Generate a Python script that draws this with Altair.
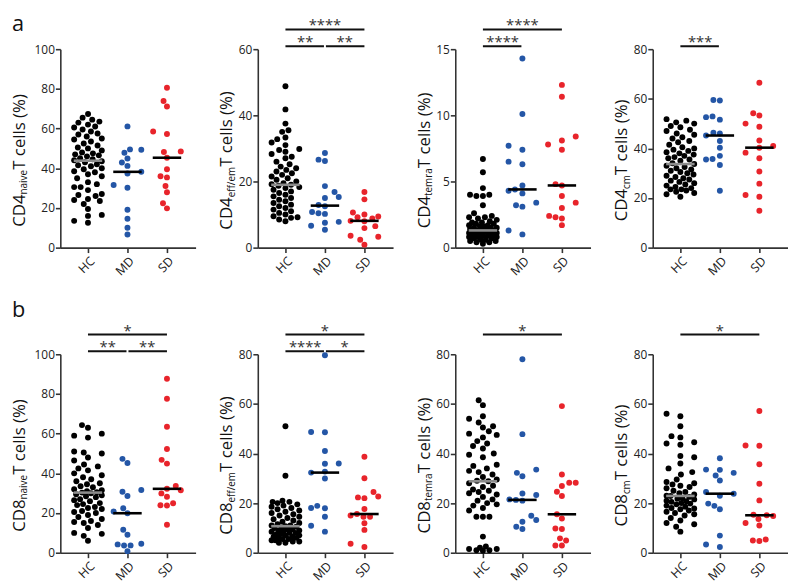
import math
import altair as alt
import pandas as pd

GROUPS = ["HC", "MD", "SD"]
GROUP_COLORS = ["#000000", "#2456A6", "#E8242B"]
MEDIAN_COLORS = ["#8c8c8c", "#000000", "#000000"]

# ---------------- data ----------------
# a1: CD4 naive
HC_A1 = [67.3, 65.5, 64.5, 63.5, 63, 62, 61, 60.5, 59.5, 58.5, 57.5, 57, 56, 55, 54.5, 53.5, 52.5, 51.5, 50.5, 50,
         49, 48, 47.5, 47, 46.5, 46, 45, 44.5, 44, 43.5, 43, 42, 41.5, 41, 40, 39.5, 38.5, 38, 37, 36,
         35, 33, 32, 30.5, 30.5, 29, 27, 26.5, 26, 24.5, 24, 23.5, 22, 19.5, 16.5, 16, 13.5, 12.5]
MD_A1 = [61.1, 49.5, 49.3, 47.8, 44.9, 42.9, 41.2, 38.2, 37.4, 31.6, 30.2, 19.1, 14.6, 10.0, 6.6]
SD_A1 = [80.6, 73.9, 71.1, 58.5, 57.3, 48.5, 48.2, 45.3, 39.5, 36.0, 35.4, 31.1, 27.9, 22.4, 19.8]
MED_A1 = [43.8, 38.2, 45.3]

# a2: CD4 eff/em
HC_A2 = [48.8, 41.8, 37.5, 35.5, 35.0, 33.3, 32.8, 31.8, 31.0, 29.8, 29.5, 29.0, 28.3, 27.5, 27.0, 26.0, 25.2, 24.5,
         24.0, 23.5, 23.0, 22.5, 22.0, 21.5, 21.0, 20.5, 20.0, 19.5, 19.2, 19.0, 18.7, 18.3, 18.0, 17.5, 17.0, 16.5,
         16.0, 15.5, 15.0, 14.5, 14.0, 13.5, 13.0, 12.5, 12.0, 11.5, 11.0, 10.5, 10.0, 9.5, 9.2, 9.0, 8.5, 8.0]
MD_A2 = [28.6, 26.6, 26.2, 18.6, 16.8, 15.3, 15.0, 12.9, 12.5, 10.8, 10.4, 10.2, 7.8, 7.5, 6.6, 5.4]
SD_A2 = [16.8, 14.6, 10.6, 10.0, 9.4, 9.2, 8.8, 8.1, 8.0, 6.5, 5.9, 3.6, 3.3, 2.4, 0.9]
MED_A2 = [19.0, 12.7, 8.1]

# a3: CD4 temra
HC_A3 = [6.7, 5.7, 4.5, 4.0, 4.0, 3.9, 3.9, 3.2, 2.6, 2.4, 2.3, 2.3, 2.2, 2.1, 2.0, 1.9, 1.9, 1.8, 1.8, 1.7,
         1.7, 1.6, 1.6, 1.5, 1.5, 1.5, 1.4, 1.4, 1.3, 1.3, 1.3, 1.2, 1.2, 1.2, 1.1, 1.1, 1.0, 1.0, 1.0, 0.9,
         0.9, 0.9, 0.8, 0.8, 0.8, 0.7, 0.7, 0.6, 0.6, 0.5, 0.5, 0.4, 0.4, 0.3]
MD_A3 = [14.3, 10.1, 7.7, 7.4, 6.5, 6.3, 4.7, 4.4, 4.3, 4.1, 3.4, 3.2, 3.1, 1.3, 1.0]
SD_A3 = [12.3, 11.4, 8.4, 8.1, 7.8, 7.4, 4.8, 4.7, 3.9, 3.4, 3.0, 2.4, 2.3, 2.2, 1.7]
MED_A3 = [1.3, 4.4, 4.7]

# a4: CD4 cm
HC_A4 = [51.8, 51.2, 50.5, 50.0, 49.0, 48.5, 47.5, 47.0, 46.0, 45.5, 44.5, 44.0, 43.0, 42.5, 41.5, 40.5, 40.0, 39.5,
         39.0, 38.5, 38.0, 37.5, 37.0, 36.5, 36.0, 35.5, 35.0, 34.0, 33.7, 33.0, 32.5, 32.0, 31.5, 31.0, 30.5, 30.0,
         29.5, 29.0, 28.5, 28.0, 27.5, 27.0, 26.5, 26.0, 25.5, 25.0, 24.5, 24.0, 23.5, 23.5, 23.0, 22.5, 22.0, 21.5, 20.5]
MD_A4 = [59.5, 59.3, 52.9, 52.6, 51.6, 46.3, 46.0, 45.2, 43.0, 40.3, 37.0, 35.7, 35.5, 33.3, 22.9]
SD_A4 = [66.5, 54.2, 53.3, 50.0, 48.7, 43.2, 41.0, 40.3, 38.3, 36.0, 30.7, 25.8, 21.2, 20.5, 14.9]
MED_A4 = [33.7, 45.2, 40.3]

# b1: CD8 naive
HC_B1 = [64.3, 63.0, 60.0, 59.0, 58.0, 51.0, 50.5, 50.0, 48.0, 46.5, 44.5, 43.5, 42.5, 41.5, 40.0, 39.0, 38.0, 37.0,
         36.0, 35.0, 34.5, 33.5, 33.0, 32.0, 31.5, 31.0, 30.5, 30.3, 30.0, 29.5, 29.0, 28.5, 28.0, 27.0, 26.5, 26.0,
         25.0, 24.5, 24.0, 23.0, 22.5, 22.0, 21.0, 20.5, 20.0, 19.0, 18.0, 17.0, 16.0, 15.5, 15.0, 14.0, 12.5, 10.0,
         9.5, 8.5, 6.0]
MD_B1 = [47.3, 45.2, 31.6, 30.7, 28.6, 22.4, 20.8, 19.9, 11.6, 9.1, 4.5, 4.2, 3.7, 3.6, 0.8]
SD_B1 = [87.7, 77.6, 63.5, 52.3, 46.8, 44.9, 33.6, 32.2, 31.5, 29.9, 28.2, 24.9, 23.9, 23.8, 14.1]
MED_B1 = [30.3, 19.9, 32.2]

# b2: CD8 eff/em
HC_B2 = [51.0, 31.0, 21.0, 20.5, 20.5, 20.0, 19.5, 19.0, 18.5, 18.0, 17.5, 17.0, 16.5, 16.0, 15.5, 15.0, 14.5, 14.0,
         13.5, 13.0, 12.5, 12.0, 11.5, 11.0, 11.0, 10.7, 10.5, 10.0, 10.0, 9.5, 9.5, 9.0, 9.0, 8.5, 8.5, 8.0, 8.0,
         7.5, 7.5, 7.0, 7.0, 6.5, 6.5, 6.0, 6.0, 5.5, 5.5, 5.0, 5.0, 4.5, 4.5, 4.0, 4.0]
MD_B2 = [79.6, 48.7, 48.6, 41.0, 36.0, 35.9, 32.7, 32.3, 29.9, 18.9, 18.0, 17.9, 14.5, 10.9, 8.5]
SD_B2 = [38.7, 30.0, 24.5, 22.7, 22.3, 22.0, 17.6, 15.6, 15.0, 14.5, 14.5, 11.9, 9.2, 3.6, 2.3]
MED_B2 = [10.7, 32.3, 15.6]

# b3: CD8 temra
HC_B3 = [61.5, 59.5, 55, 54, 52.5, 51, 50.5, 49, 48, 47.5, 46.5, 45, 44, 43, 42, 40, 39.5, 38.5, 35.5, 35,
         34, 33, 32.5, 31.5, 30.5, 29.5, 29, 28.8, 28, 27, 26.5, 25.5, 25, 24.5, 24, 23.5, 22.5, 21.5, 21, 20,
         19.5, 19, 18, 17, 14.5, 14.5, 14.5, 6.5, 2.5, 2.0, 1.5, 1.5, 1.0, 1.0, 0.8]
MD_B3 = [78.0, 47.8, 33.5, 32.2, 30.8, 23.9, 23.3, 21.5, 21.3, 21.0, 14.9, 13.2, 12.5, 10.5, 9.6]
SD_B3 = [59.1, 31.5, 28.2, 28.2, 26.9, 24.6, 22.9, 15.5, 13.8, 9.8, 9.6, 5.8, 4.9, 2.9, 2.9]
MED_B3 = [28.8, 21.3, 15.5]

# b4: CD8 cm
HC_B4 = [56, 55, 51, 47, 46.5, 44.5, 44, 43.5, 39, 38.5, 36, 34, 32.5, 31.5, 29.5, 28.5, 28, 27.5, 27, 26.5,
         26, 25, 24.5, 24, 23.5, 23, 22.9, 22.5, 22, 21.8, 21.5, 21, 20.8, 20.5, 20, 19.8, 19.5, 19, 18.5, 18,
         17.8, 17.5, 17, 16.5, 16, 15.5, 15, 14, 13, 12, 11.5, 10.5, 8.5]
MD_B4 = [38.1, 33.5, 33.4, 32.2, 31.1, 29.1, 24.5, 23.8, 23.0, 19.8, 18.9, 17.5, 6.9, 3.3, 2.3]
SD_B4 = [57.1, 43.2, 43.1, 35.7, 27.8, 21.1, 15.3, 15.1, 14.8, 13.6, 12.0, 11.0, 5.3, 4.9, 4.7]
MED_B4 = [22.9, 23.8, 15.1]

# significance annotations: (from, to, level 0=upper 1=lower, label)
SIG_A1 = []
SIG_A2 = [("HC", "SD", 0, "****"), ("HC", "MD", 1, "**"), ("MD", "SD", 1, "**")]
SIG_A3 = [("HC", "SD", 0, "****"), ("HC", "MD", 1, "****")]
SIG_A4 = [("HC", "MD", 1, "***")]
SIG_B1 = [("HC", "SD", 0, "*"), ("HC", "MD", 1, "**"), ("MD", "SD", 1, "**")]
SIG_B2 = [("HC", "SD", 0, "*"), ("HC", "MD", 1, "****"), ("MD", "SD", 1, "*")]
SIG_B3 = [("HC", "SD", 0, "*")]
SIG_B4 = [("HC", "SD", 0, "*")]

TICKS_100 = [0, 20, 40, 60, 80, 100]
TICKS_80 = [0, 20, 40, 60, 80]
TICKS_60 = [0, 20, 40, 60]
TICKS_15 = [0, 5, 10, 15]

ROW_A = [
    ("CD4", "naive", 100, TICKS_100, HC_A1, MD_A1, SD_A1, MED_A1, SIG_A1),
    ("CD4", "eff/em", 60, TICKS_60, HC_A2, MD_A2, SD_A2, MED_A2, SIG_A2),
    ("CD4", "temra", 15, TICKS_15, HC_A3, MD_A3, SD_A3, MED_A3, SIG_A3),
    ("CD4", "cm", 80, TICKS_80, HC_A4, MD_A4, SD_A4, MED_A4, SIG_A4),
]
ROW_B = [
    ("CD8", "naive", 100, TICKS_100, HC_B1, MD_B1, SD_B1, MED_B1, SIG_B1),
    ("CD8", "eff/em", 80, TICKS_80, HC_B2, MD_B2, SD_B2, MED_B2, SIG_B2),
    ("CD8", "temra", 80, TICKS_80, HC_B3, MD_B3, SD_B3, MED_B3, SIG_B3),
    ("CD8", "cm", 80, TICKS_80, HC_B4, MD_B4, SD_B4, MED_B4, SIG_B4),
]
TITLE_REST = " T cells (%)"

# ---------------- layout / style ----------------
W, H = 137, 201
ROW_GAP = 108
XMAX = 3.425
CENTERS = [0.7, 1.7, 2.7]
PX_X = W / XMAX
DOT_SIZE = 36
DIAM = 6.6
SPREAD = 14
FONT = "Open Sans"
AX = "#333333"
TITLE_SIZE = 17
SUB_SIZE = 10

OS_W = {"C": 0.631, "D": 0.722, "4": 0.572, "8": 0.572, "T": 0.542, " ": 0.26, "c": 0.478, "e": 0.561,
        "l": 0.253, "s": 0.477, "(": 0.297, "%": 0.822, ")": 0.297, "n": 0.614, "a": 0.575, "i": 0.253,
        "v": 0.498, "f": 0.339, "/": 0.367, "m": 0.93, "t": 0.352, "r": 0.408}


def text_width(s, size):
    return sum(OS_W.get(ch, 0.55) for ch in s) * size


def swarm(values, ypx):
    order = sorted(range(len(values)), key=lambda i: values[i])
    placed = []
    xs = [0.0] * len(values)
    d2 = DIAM * DIAM
    for i in order:
        y = values[i] * ypx
        cands = [0.0]
        for px, py in placed:
            dy = abs(py - y)
            if dy < DIAM:
                dx = math.sqrt(d2 - dy * dy)
                cands += [px + dx, px - dx]
        cands = sorted(set(round(c, 3) for c in cands), key=lambda c: (abs(c), c))
        chosen = None
        for c in cands:
            if abs(c) > SPREAD:
                continue
            if all((c - px) ** 2 + (y - py) ** 2 >= d2 - 1e-6 for px, py in placed):
                chosen = c
                break
        if chosen is None:
            best, bestd = 0.0, -1
            for k in range(29):
                c = -SPREAD + k * (2 * SPREAD / 28)
                md = min((c - px) ** 2 + (y - py) ** 2 for px, py in placed)
                if md > bestd:
                    bestd, best = md, c
            chosen = best
        placed.append((chosen, y))
        xs[i] = chosen
    return xs


LABEL_EXPR = "[" + ",".join("'%s'" % g for g in GROUPS) + "][round(datum.value - %s)]" % CENTERS[0]


def make_panel(spec, panel_letter=None, letter_y=-18):
    base, sub, ymax, ticks, hc, md, sd, med, sig = spec
    ypx = H / ymax
    rows = []
    for g, vals in zip(GROUPS, [hc, md, sd]):
        c = CENTERS[GROUPS.index(g)]
        offs = swarm(vals, ypx)
        for v, o in zip(vals, offs):
            rows.append({"group": g, "value": v, "xpos": c + o / PX_X})
    pts = pd.DataFrame(rows)

    xscale = alt.Scale(domain=[0, XMAX], nice=False, zero=False)
    yscale = alt.Scale(domain=[0, ymax], nice=False, zero=True)
    xaxis = alt.Axis(values=CENTERS, labelExpr=LABEL_EXPR, labelAngle=-45, labelAlign="right",
                     labelBaseline="top", title=None, grid=False, domainColor=AX, domainWidth=1.6,
                     tickColor=AX, tickWidth=1.6, tickSize=5, labelFont=FONT, labelFontSize=12.5,
                     labelColor="#222222", labelPadding=2)
    yaxis = alt.Axis(values=ticks, title=None, grid=False, domainColor=AX, domainWidth=1.6,
                     tickColor=AX, tickWidth=1.6, tickSize=5, labelFont=FONT, labelFontSize=12,
                     labelColor="#222222", labelPadding=1)

    layers = []
    layers.append(alt.Chart(pts).mark_circle(size=DOT_SIZE, opacity=1).encode(
        x=alt.X("xpos:Q", scale=xscale, axis=xaxis),
        y=alt.Y("value:Q", scale=yscale, axis=yaxis),
        color=alt.Color("group:N", scale=alt.Scale(domain=GROUPS, range=GROUP_COLORS), legend=None),
    ))

    mdf = pd.DataFrame({
        "group": GROUPS,
        "med": med,
        "x1": [c - 0.36 for c in CENTERS],
        "x2": [c + 0.36 for c in CENTERS],
        "mcol": MEDIAN_COLORS,
    })
    layers.append(alt.Chart(mdf).mark_rule(strokeWidth=2.6).encode(
        x=alt.X("x1:Q", scale=xscale, axis=xaxis),
        x2="x2:Q",
        y=alt.Y("med:Q", scale=yscale, axis=yaxis),
        color=alt.Color("mcol:N", scale=None),
    ))

    level_y = {0: -20, 1: -3}
    for lvl in (0, 1):
        items = [s for s in sig if s[2] == lvl]
        if not items:
            continue
        srows = []
        for a, b, _, lab in items:
            ca, cb = CENTERS[GROUPS.index(a)], CENTERS[GROUPS.index(b)]
            x1, x2 = ca, cb
            if lvl == 1:
                if b == "MD":
                    x2 = cb - 0.025
                if a == "MD":
                    x1 = ca + 0.025
            srows.append({"x1": x1, "x2": x2, "xm": (ca + cb) / 2, "lab": lab})
        sdf = pd.DataFrame(srows)
        layers.append(alt.Chart(sdf).mark_rule(strokeWidth=2, color="#111111").encode(
            x=alt.X("x1:Q", scale=xscale, axis=xaxis), x2="x2:Q", y=alt.value(level_y[lvl])))
        layers.append(alt.Chart(sdf).mark_text(font=FONT, fontSize=15, color="#333333",
                                               baseline="alphabetic", align="center").encode(
            x=alt.X("xm:Q", scale=xscale, axis=xaxis), y=alt.value(level_y[lvl] + 1), text="lab:N"))

    # y title with subscript, built from three rotated text pieces
    wide = max(len(str(t)) for t in ticks) >= 3
    ax_x = -36 if wide else -26
    w1 = text_width(base, TITLE_SIZE)
    w2 = text_width(sub, SUB_SIZE)
    w3 = text_width(TITLE_REST, TITLE_SIZE)
    bottom = H / 2 + 10 + (w1 + w2 + w3) / 2
    parts = [(base, TITLE_SIZE, ax_x, bottom),
             (sub, SUB_SIZE, ax_x + 2.5, bottom - w1),
             (TITLE_REST, TITLE_SIZE, ax_x, bottom - w1 - w2)]
    for txt, size, xv, yv in parts:
        layers.append(alt.Chart(pd.DataFrame({"t": [txt]})).mark_text(
            font=FONT, fontSize=size, angle=270, align="left", baseline="alphabetic", color="#111111"
        ).encode(x=alt.value(xv), y=alt.value(yv), text="t:N"))

    if panel_letter:
        layers.append(alt.Chart(pd.DataFrame({"t": [panel_letter]})).mark_text(
            font=FONT, fontSize=22, align="left", baseline="alphabetic", color="#111111"
        ).encode(x=alt.value(-49), y=alt.value(letter_y), text="t:N"))

    return alt.layer(*layers).properties(width=W, height=H)


row_a = alt.hconcat(*[make_panel(s, "a" if i == 0 else None, -18) for i, s in enumerate(ROW_A)],
                    spacing=63, bounds="flush")
row_b = alt.hconcat(*[make_panel(s, "b" if i == 0 else None, -38) for i, s in enumerate(ROW_B)],
                    spacing=63, bounds="flush")

# with flush bounds the nested rows count as zero height, so the spacing spans plot height + gap
chart = alt.vconcat(row_a, row_b, spacing=H + ROW_GAP, bounds="flush",
                    padding={"left": 2, "top": 2, "right": 0, "bottom": 0}).configure_view(stroke=None)

chart.save("out.html", embed_options={"renderer": "svg", "actions": False})
